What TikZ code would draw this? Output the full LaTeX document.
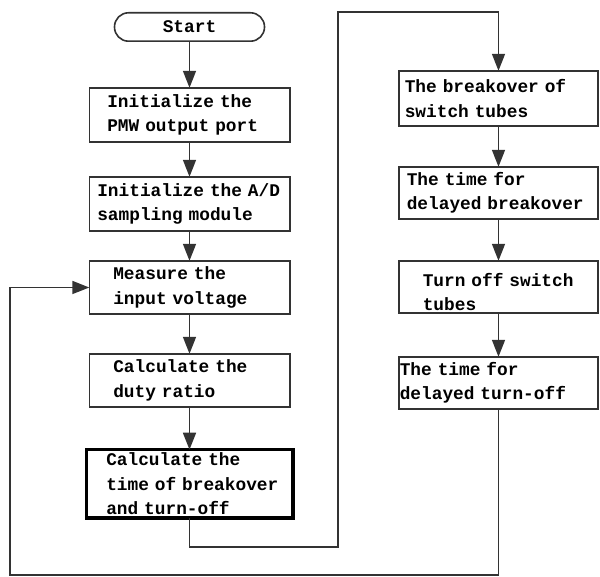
\documentclass[tikz,border=0pt]{standalone}
\usepackage{fontspec}
\setmonofont{Liberation Mono}
\usetikzlibrary{arrows.meta, positioning}
\tikzset{process box/.style = {draw=black!80, line width=1.6pt, text width=#1,
    inner xsep=0pt, inner ysep=0pt, outer sep=0pt, align=left,
    minimum height=54.4pt,
    font=\ttfamily\bfseries\fontsize{17.8}{24.5}\selectfont}}
\tikzset{indent/.style = {execute at begin node={\leftskip=#1\relax}}}
\tikzset{terminal/.style = {draw=black!80, line width=1.6pt, rounded corners=14pt,
    minimum width=150pt, minimum height=28.4pt, inner sep=0pt, outer sep=0pt,
    font=\ttfamily\bfseries\fontsize{17.8}{24.5}\selectfont}}
\tikzset{flow/.style = {draw=black!80, line width=1.6pt,
    -{Triangle[length=17pt,width=13pt]}}}

\begin{document}
\begin{tikzpicture}[x=1pt, y=1pt]
  \useasboundingbox (0,0) rectangle (600,577);

  % left column
  \node[terminal] (start) at (189.5,550) {Start};
  \node[process box=200.4pt, indent=18pt] (init pwm) [below=46.6pt of start]
    {Initialize the\\PMW output port};
  \node[process box=200.4pt, indent=8pt] (init ad) [below=34.6pt of init pwm]
    {Initialize~the~A/D\\sampling module};
  \node[process box=200.4pt, indent=24pt, minimum height=53.4pt] (measure)
    [below=29.6pt of init ad] {Measure the\\input voltage};
  \node[process box=200.4pt, indent=24pt, minimum height=53.4pt] (duty)
    [below=39.6pt of measure] {Calculate the\\duty ratio};
  \node[process box=206.5pt, indent=20pt, draw=black, line width=3.5pt,
    minimum height=68.5pt] (calc time) [below=42.5pt of duty]
    {Calculate the\\time of breakover\\and turn-off};

  % right column
  \node[process box=199.4pt, indent=6pt, minimum height=55.4pt] (breakover)
    at (498.5,478.5) {The breakover of\\switch tubes};
  \node[process box=199.4pt, indent=8pt, minimum height=52.4pt] (delay on)
    [below=40.6pt of breakover] {The time for\\delayed breakover};
  \node[process box=199.4pt, indent=24pt, minimum height=52.4pt] (turn off)
    [below=41.6pt of delay on] {\rule{0pt}{23pt}Turn off switch\\tubes};
  \node[process box=199.4pt, indent=1pt, minimum height=52.4pt] (delay off)
    [below=43.6pt of turn off] {The time for\\delayed turn-off};

  \coordinate (loop low) at (338,30);
  \coordinate (loop top) at (338,565);
  \coordinate (return low) at (10,2);

  \foreach \a/\b in {start/init pwm, init pwm/init ad, init ad/measure,
      measure/duty, duty/calc time, breakover/delay on, delay on/turn off,
      turn off/delay off}
    \draw[flow] (\a) -- (\b);

  \draw[flow] (calc time.south) |- (loop low) -- (loop top) -| (breakover.north);
  \draw[flow] (delay off.south) |- (return low) |- (measure.west);
\end{tikzpicture}
\end{document}
